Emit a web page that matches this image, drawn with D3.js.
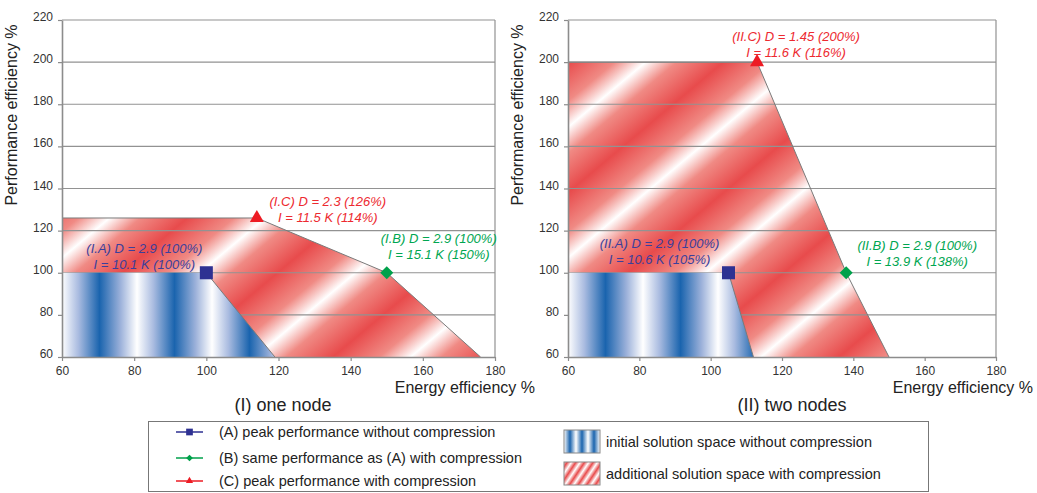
<!DOCTYPE html>
<html>
<head>
<meta charset="utf-8">
<script src="https://cdn.jsdelivr.net/npm/d3@7"></script>
<style>
  body { margin: 0; background: #fff; }
  svg { display: block; font-family: "Liberation Sans", Arial, sans-serif; }
  .tick text { fill: #333; font-size: 12px; }
</style>
</head>
<body>
<svg id="chart" width="1037" height="493"></svg>
<script>
// axis ticks (both panels)
const xTicks = [60, 80, 100, 120, 140, 160, 180];
const yTicks = [60, 80, 100, 120, 140, 160, 180, 200, 220];

const panelTitles = ['(I) one node', '(II) two nodes'];

// solution spaces, [energy efficiency %, performance efficiency %]
const additionalSpace = [
  [[60, 60], [60, 126], [114, 126], [150, 100], [176, 60]],
  [[60, 60], [60, 200], [113, 200], [138, 100], [150, 60]]
];
const initialSpace = [
  [[60, 60], [60, 100], [100, 100], [119, 60]],
  [[60, 60], [60, 100], [105, 100], [112, 60]]
];

// points A, B, C per panel
const pointKeys = ['A', 'B', 'C'];
const pointEnergy = [[100, 150, 114], [105, 138, 113]];
const pointPerf = [[100, 100, 126], [100, 100, 200]];
const pointLabels = [
  [['(I.A) D = 2.9 (100%)', 'I = 10.1 K (100%)'],
   ['(I.B) D = 2.9 (100%)', 'I = 15.1 K (150%)'],
   ['(I.C) D = 2.3 (126%)', 'I = 11.5 K (114%)']],
  [['(II.A) D = 2.9 (100%)', 'I = 10.6 K (105%)'],
   ['(II.B) D = 2.9 (100%)', 'I = 13.9 K (138%)'],
   ['(II.C) D = 1.45 (200%)', 'I = 11.6 K (116%)']]
];

const legendPoints = [
  '(A) peak performance without compression',
  '(B) same performance as (A) with compression',
  '(C) peak performance with compression'
];
const legendAreas = [
  'initial solution space without compression',
  'additional solution space with compression'
];

// layout / style
const colors = { A: '#2e3192', B: '#00a14b', C: '#ed1c24' };
const textColors = { A: '#3b3f9c', B: '#00a651', C: '#ed2a30' };
const panelBox = [
  { left: 62, width: 433, title: 283, xLabelRight: 535 },
  { left: 568, width: 428, title: 792, xLabelRight: 1033 }
];
const plotTop = 20, plotH = 337;
// label offsets from marker (px): [dx, dy of first line]
const labelOffsets = [
  [[-62, -24], [52, -34], [71, -17]],
  [[-69, -29], [71, -27], [39, -26]]
];

const svg = d3.select('#chart');
const defs = svg.append('defs');

const blue = defs.append('linearGradient')
  .attr('id', 'blueStripes')
  .attr('gradientUnits', 'userSpaceOnUse')
  .attr('spreadMethod', 'repeat')
  .attr('x1', 0).attr('y1', 0).attr('x2', 75).attr('y2', 0);
[[0, '#ffffff'], [0.22, '#a9bbe0'], [0.5, '#1a64ae'], [0.78, '#9cb1da'], [1, '#ffffff']]
  .forEach(s => blue.append('stop').attr('offset', s[0]).attr('stop-color', s[1]));

// diagonal stripes, about 40 degrees, ~100px period
const red = defs.append('linearGradient')
  .attr('id', 'redStripes')
  .attr('gradientUnits', 'userSpaceOnUse')
  .attr('spreadMethod', 'repeat')
  .attr('x1', 0).attr('y1', 42).attr('x2', 64.3).attr('y2', 118.6);
[[0, '#e84b4c'], [0.3, '#f08a84'], [0.5, '#ffffff'], [0.7, '#f08a84'], [1, '#e84b4c']]
  .forEach(s => red.append('stop').attr('offset', s[0]).attr('stop-color', s[1]));

// small legend swatches use their own gradients
const blueSw = defs.append('linearGradient')
  .attr('id', 'blueSwatch').attr('gradientUnits', 'userSpaceOnUse')
  .attr('spreadMethod', 'repeat')
  .attr('x1', 0).attr('y1', 0).attr('x2', 12).attr('y2', 0);
[[0, '#ffffff'], [0.5, '#1a64ae'], [1, '#ffffff']]
  .forEach(s => blueSw.append('stop').attr('offset', s[0]).attr('stop-color', s[1]));
const redSw = defs.append('linearGradient')
  .attr('id', 'redSwatch').attr('gradientUnits', 'userSpaceOnUse')
  .attr('spreadMethod', 'repeat')
  .attr('x1', 0).attr('y1', 0).attr('x2', 6).attr('y2', 4);
[[0, '#e84b4c'], [0.5, '#ffffff'], [1, '#e84b4c']]
  .forEach(s => redSw.append('stop').attr('offset', s[0]).attr('stop-color', s[1]));

function marker(key, size) {
  if (key === 'A') return d3.symbol(d3.symbolSquare, size)();
  if (key === 'C') return d3.symbol(d3.symbolTriangle, size * 0.5)();
  return d3.symbol(d3.symbolSquare, size * 0.5)();
}

panelBox.forEach((box, p) => {
  const x = d3.scaleLinear().domain([60, 180]).range([0, box.width]);
  const y = d3.scaleLinear().domain([60, 220]).range([plotH, 0]);
  const g = svg.append('g').attr('transform', `translate(${box.left},${plotTop})`);
  const line = d3.line().x(d => x(d[0])).y(d => y(d[1]));

  // additional space (red), then grid, then initial space (blue)
  g.append('path')
    .attr('d', line(additionalSpace[p]) + 'Z')
    .attr('fill', 'url(#redStripes)');

  g.selectAll('.grid')
    .data(yTicks.slice(1))
    .join('line')
    .attr('x1', 0).attr('x2', box.width)
    .attr('y1', d => y(d)).attr('y2', d => y(d))
    .attr('stroke', '#929292').attr('stroke-width', 1.2);

  g.append('line')
    .attr('x1', box.width).attr('x2', box.width)
    .attr('y1', 0).attr('y2', plotH)
    .attr('stroke', '#929292').attr('stroke-width', 1.2);

  g.append('path')
    .attr('d', line(initialSpace[p]) + 'Z')
    .attr('fill', 'url(#blueStripes)');

  // outlines of the regions
  g.append('path')
    .attr('d', line(additionalSpace[p].slice(1)))
    .attr('fill', 'none').attr('stroke', '#7a7a7a').attr('stroke-width', 1);
  g.append('path')
    .attr('d', line(initialSpace[p].slice(2)))
    .attr('fill', 'none').attr('stroke', '#7a7a7a').attr('stroke-width', 1);

  // axes
  const xAxis = g.append('g')
    .attr('transform', `translate(0,${plotH})`)
    .call(d3.axisBottom(x).tickValues(xTicks).tickSize(4).tickPadding(5).tickSizeOuter(0));
  const yAxis = g.append('g')
    .call(d3.axisLeft(y).tickValues(yTicks).tickSize(4).tickPadding(5).tickSizeOuter(0));
  [xAxis, yAxis].forEach(a => {
    a.select('.domain').attr('stroke', '#8c8c8c').attr('stroke-width', 1.6);
    a.selectAll('.tick line').attr('stroke', '#8c8c8c').attr('stroke-width', 1.2);
  });
  yAxis.selectAll('.tick text').attr('dy', '0.05em');

  // axis titles
  svg.append('text')
    .attr('transform', `translate(${box.left - 45},${plotTop + 95}) rotate(-90)`)
    .attr('text-anchor', 'middle')
    .attr('font-size', 16).attr('fill', '#222')
    .text('Performance efficiency %');
  svg.append('text')
    .attr('x', box.xLabelRight).attr('y', 393)
    .attr('text-anchor', 'end')
    .attr('font-size', 16).attr('fill', '#222')
    .text('Energy efficiency %');
  svg.append('text')
    .attr('x', box.title).attr('y', 411)
    .attr('text-anchor', 'middle')
    .attr('font-size', 18).attr('fill', '#222')
    .text(panelTitles[p]);

  // points and their labels
  pointKeys.forEach((k, i) => {
    const px = x(pointEnergy[p][i]), py = y(pointPerf[p][i]);
    g.append('path')
      .attr('d', marker(k, 170))
      .attr('transform', `translate(${px},${py})` + (k === 'B' ? ' rotate(45)' : ''))
      .attr('fill', colors[k]);
    const off = labelOffsets[p][i];
    const t = g.append('text')
      .attr('text-anchor', 'middle')
      .attr('font-size', 13).attr('font-style', 'italic')
      .attr('fill', textColors[k]);
    pointLabels[p][i].forEach((s, j) => {
      t.append('tspan')
        .attr('x', px + off[0])
        .attr('y', py + off[1] + j * 16)
        .attr('dy', '0.35em')
        .text(s);
    });
  });
});

// legend
const legend = svg.append('g');
legend.append('rect')
  .attr('x', 148.5).attr('y', 421.5).attr('width', 780).attr('height', 70)
  .attr('fill', 'none').attr('stroke', '#777').attr('stroke-width', 1);

legendPoints.forEach((s, i) => {
  const k = pointKeys[i];
  const yy = [432, 458, 481][i];
  legend.append('line')
    .attr('x1', 176).attr('x2', 203).attr('y1', yy).attr('y2', yy)
    .attr('stroke', colors[k]).attr('stroke-width', 1.5);
  legend.append('path')
    .attr('d', marker(k, 45))
    .attr('transform', `translate(189.5,${yy})` + (k === 'B' ? ' rotate(45)' : ''))
    .attr('fill', colors[k]);
  legend.append('text')
    .attr('x', 219).attr('y', yy).attr('dy', '0.35em')
    .attr('font-size', 14.5).attr('fill', '#222')
    .text(s);
});

legendAreas.forEach((s, i) => {
  const yy = [430, 462][i];
  legend.append('rect')
    .attr('x', 564).attr('y', yy).attr('width', 36).attr('height', 23)
    .attr('fill', i === 0 ? 'url(#blueSwatch)' : 'url(#redSwatch)')
    .attr('stroke', '#888').attr('stroke-width', 1);
  legend.append('text')
    .attr('x', 606).attr('y', yy + 11.5).attr('dy', '0.35em')
    .attr('font-size', 14.5).attr('fill', '#222')
    .text(s);
});
</script>
</body>
</html>
